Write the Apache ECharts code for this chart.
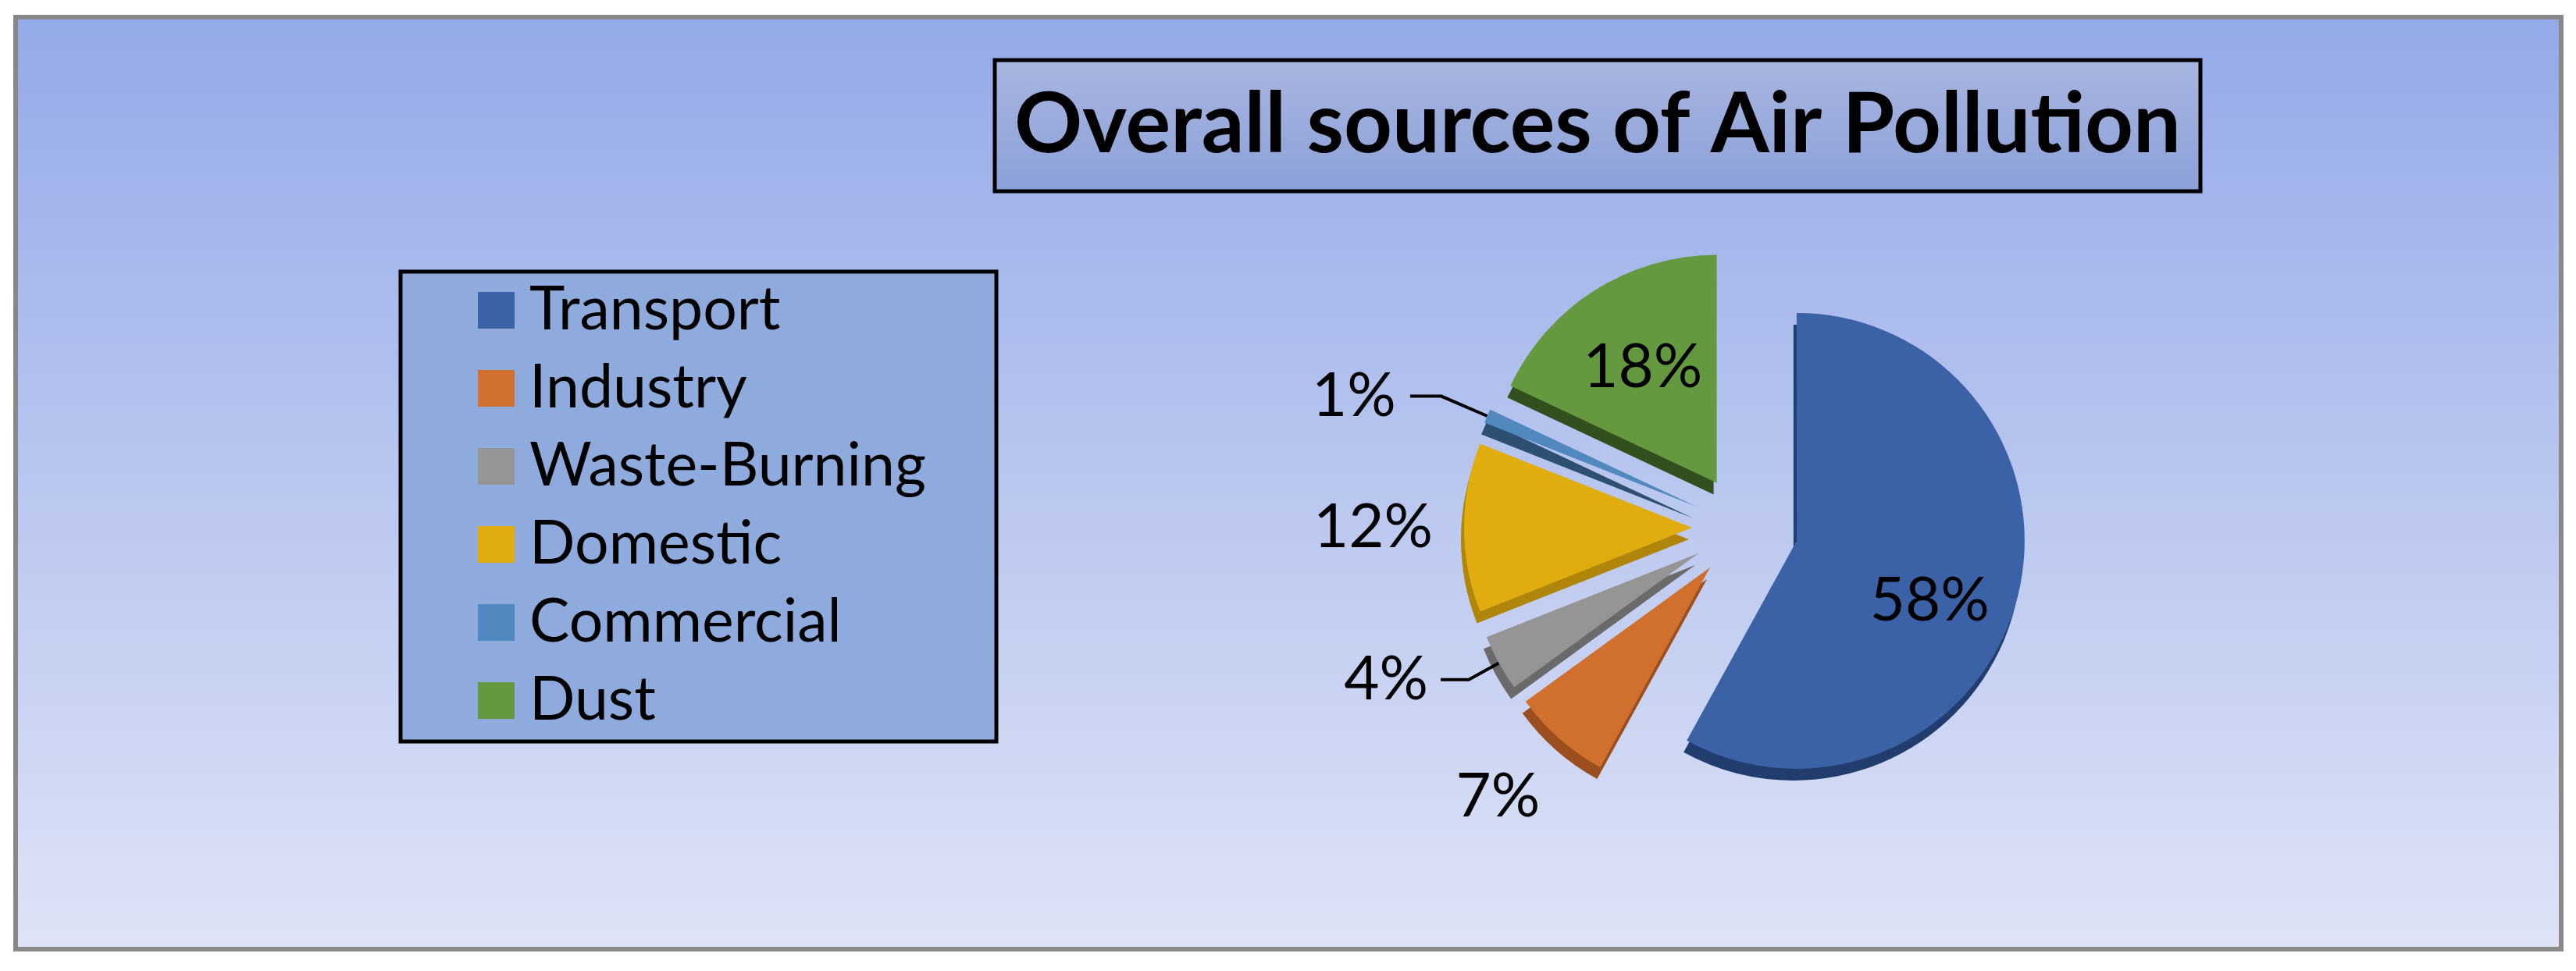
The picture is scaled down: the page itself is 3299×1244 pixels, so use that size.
<!DOCTYPE html>
<html>
<head>
<meta charset="utf-8">
<script src="https://cdn.jsdelivr.net/npm/echarts@6/dist/echarts.min.js"></script>
<style>
html,body{margin:0;padding:0;background:#ffffff;}
#chart{width:3299px;height:1244px;}
</style>
</head>
<body>
<div id="chart"></div>
<script>
// ---- data ----
const titleText = 'Overall sources of Air Pollution';
const categories = ['Transport', 'Industry', 'Waste-Burning', 'Domestic', 'Commercial', 'Dust'];
const values = [58, 7, 4, 12, 1, 18];

// ---- styles ----
const topColors = ['#3B61A7', '#D16F2E', '#959595', '#E0AC0E', '#5189BE', '#64993F'];
const sideColors = ['#213D6E', '#9C4F1E', '#6A6A6A', '#B0860A', '#2D4F72', '#334F1E'];
const FONT = 'Lato';

// per-item label configuration (index-aligned with categories)
const labelCfg = [
  { position: 'inside', line: false, dx: 26, dy: 40 },
  { position: 'outside', line: false, length: 84, length2: 0, dist: 0, dx: 36, dy: 12 },
  { position: 'outside', line: true, length: 44, length2: 36, dist: 16, padBottom: 58 },
  { position: 'outside', line: false, length: 20, length2: 10, dist: 10 },
  { position: 'outside', line: true, length: 64, length2: 40, dist: 18, padBottom: 58 },
  { position: 'inside', line: false, dx: -15, dy: -22 }
];

const CX = 2235, CY = 676, R = 292, OFFSET = 68;

const topData = categories.map((name, i) => {
  const c = labelCfg[i];
  return {
    name: name,
    value: values[i],
    selected: true,
    itemStyle: { color: topColors[i] },
    label: {
      show: true,
      position: c.position,
      formatter: '{d}%',
      fontFamily: FONT,
      fontSize: 78,
      color: '#000000',
      distanceToLabelLine: c.dist || 5,
      padding: c.padBottom ? [0, 0, c.padBottom, 0] : 0
    },
    labelLine: {
      show: c.line,
      length: c.length || 10,
      length2: c.length2 || 0,
      lineStyle: { color: '#000000', width: 4 }
    }
  };
});

const sideData = categories.map((name, i) => ({
  name: name,
  value: values[i],
  selected: true,
  itemStyle: { color: sideColors[i] },
  label: { show: false },
  labelLine: { show: false }
}));

const chart = echarts.init(document.getElementById('chart'), null, { renderer: 'canvas' });

chart.setOption({
  backgroundColor: '#ffffff',
  animation: false,
  graphic: [
    {
      type: 'rect', z: -10,
      shape: { x: 20, y: 22, width: 3260, height: 1194 },
      style: {
        fill: new echarts.graphic.LinearGradient(0, 0, 0, 1, [
          { offset: 0, color: '#94A9E8' },
          { offset: 1, color: '#DEE3F6' }
        ]),
        stroke: '#888888', lineWidth: 6
      }
    },
    {
      type: 'rect', z: -9,
      shape: { x: 1274, y: 77, width: 1544, height: 168 },
      style: {
        fill: new echarts.graphic.LinearGradient(0, 0, 0, 1, [
          { offset: 0, color: '#A9B5E0' },
          { offset: 1, color: '#8BA0D8' }
        ]),
        stroke: '#000000', lineWidth: 5
      }
    },
    {
      type: 'rect', z: -9,
      shape: { x: 513, y: 348, width: 763, height: 602 },
      style: { fill: '#8FAADC', stroke: '#000000', lineWidth: 5 }
    }
  ],
  title: {
    text: titleText,
    left: 2046,
    top: 106,
    textAlign: 'center',
    padding: 0,
    textStyle: { fontFamily: FONT, fontWeight: 'bold', fontSize: 108, color: '#000000' }
  },
  legend: {
    orient: 'vertical',
    left: 612,
    top: 359,
    padding: 0,
    itemWidth: 47,
    itemHeight: 47,
    itemGap: 23,
    icon: 'rect',
    data: categories,
    selectedMode: false,
    textStyle: { fontFamily: FONT, fontSize: 77, color: '#000000', padding: [0, 0, 0, 14] }
  },
  series: [
    {
      type: 'pie',
      name: 'top',
      z: 3,
      center: [CX, CY],
      radius: [0, R],
      startAngle: 90,
      clockwise: true,
      selectedMode: 'multiple',
      selectedOffset: OFFSET,
      avoidLabelOverlap: false,
      emphasis: { disabled: true },
      labelLayout: function (p) {
        const c = labelCfg[p.dataIndex];
        return { dx: c.dx || 0, dy: c.dy || 0 };
      },
      data: topData
    },
    {
      type: 'pie',
      name: 'side',
      z: 2,
      silent: true,
      center: [CX - 4, CY + 15],
      radius: [0, R],
      startAngle: 90,
      clockwise: true,
      selectedMode: 'multiple',
      selectedOffset: OFFSET,
      avoidLabelOverlap: false,
      emphasis: { disabled: true },
      data: sideData
    }
  ]
});
</script>
</body>
</html>
